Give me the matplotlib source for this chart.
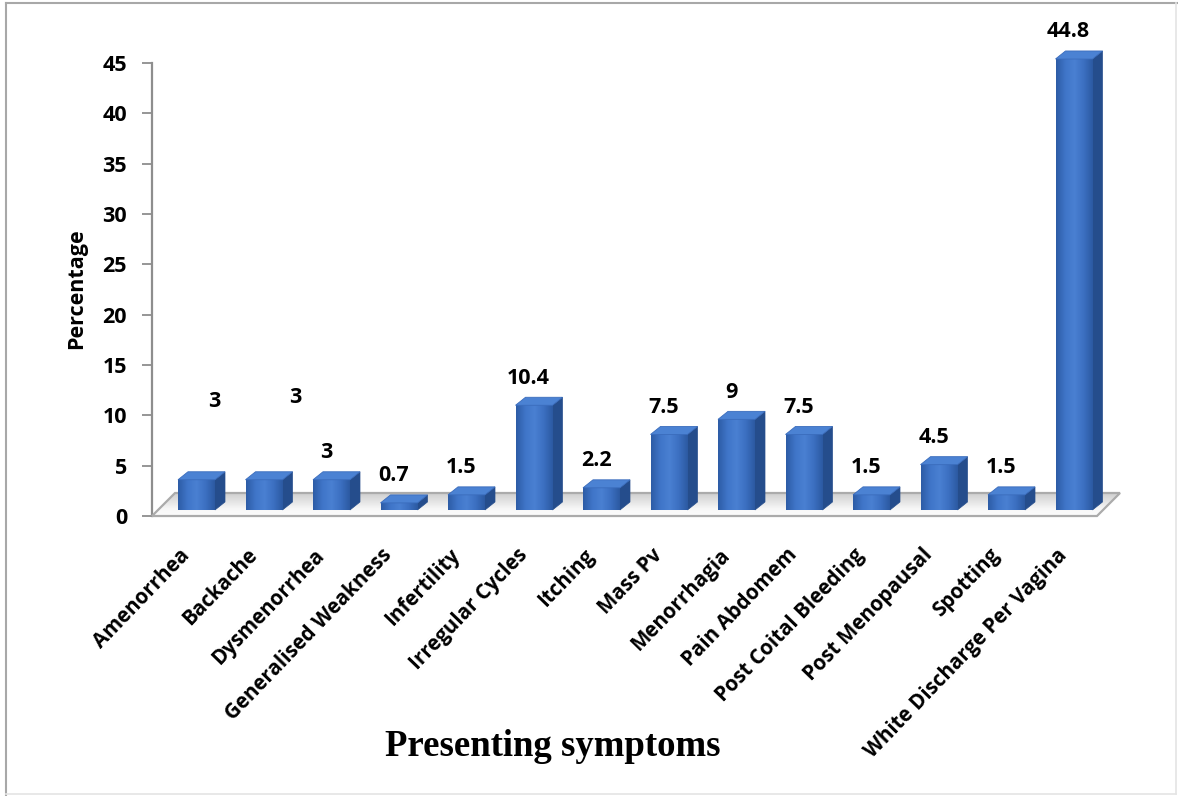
import numpy as np
import matplotlib
matplotlib.use("Agg")
import matplotlib.pyplot as plt
from matplotlib.patches import Polygon
from matplotlib.lines import Line2D
from matplotlib.transforms import offset_copy
from matplotlib.colors import LinearSegmentedColormap

# ---- data -------------------------------------------------------------
symptoms = ["Amenorrhea", "Backache", "Dysmenorrhea", "Generalised Weakness",
            "Infertility", "Irregular Cycles", "Itching", "Mass Pv",
            "Menorrhagia", "Pain Abdomem", "Post Coital Bleeding",
            "Post Menopausal", "Spotting", "White Discharge Per Vagina"]
percentages = [3, 3, 3, 0.7, 1.5, 10.4, 2.2, 7.5, 9, 7.5, 1.5, 4.5, 1.5, 44.8]
y_ticks = [0, 5, 10, 15, 20, 25, 30, 35, 40, 45]

# ---- figure / axes geometry (pixels) ----------------------------------
W, H = 1178, 796
fig = plt.figure(figsize=(W / 100, H / 100), dpi=100)
fig.patch.set_facecolor("white")

ax_l, ax_r, ax_t, ax_b = 152, 1130, 63, 516
ax = fig.add_axes([ax_l / W, (H - ax_b) / H, (ax_r - ax_l) / W, (ax_b - ax_t) / H])
step_px = 67.5
first_center_px = 196.5
x_lo = -(first_center_px - ax_l) / step_px
x_hi = x_lo + (ax_r - ax_l) / step_px
ax.set_facecolor("none")

px_per_unit_y = (ax_b - ax_t) / 45.0
x = np.arange(len(symptoms))

# 3-D look parameters
bar_w = 37 / step_px
depth_x = 10 / step_px
depth_y = 8 / px_per_unit_y
base = 0.6
floor_dx = 23 / step_px
floor_dy = 23 / px_per_unit_y
floor_right = x_lo + (1097 - ax_l) / step_px

# ---- floor ------------------------------------------------------------
floor_pts = [(x_lo, 0), (floor_right, 0),
             (floor_right + floor_dx, floor_dy), (x_lo + floor_dx, floor_dy)]
floor_cmap = LinearSegmentedColormap.from_list(
    "floor", ["#fdfdfd", "#f6f6f6", "#e2e2e2", "#cfcfcf"])
grad = np.linspace(0, 1, 64).reshape(-1, 1)
im = ax.imshow(grad, cmap=floor_cmap, origin="lower", aspect="auto",
               extent=(x_lo, floor_right + floor_dx, 0, floor_dy), zorder=1)
im.set_clip_path(Polygon(floor_pts, closed=True, transform=ax.transData))
ax.add_patch(Polygon(floor_pts, closed=True, facecolor="none",
                     edgecolor="#ababab", lw=1.6, zorder=3, clip_on=False))

# ---- bars -------------------------------------------------------------
front_cmap = LinearSegmentedColormap.from_list(
    "front", ["#2d5ca6", "#3f75c8", "#4a80d2", "#3c70c2", "#2c5aa2"])
side_col = "#254d8c"
top_col = "#4b82d3"
hgrad = np.linspace(0, 1, 64).reshape(1, -1)

bars = ax.bar(x, percentages, width=bar_w, bottom=base, color="#3a6fc2",
              linewidth=0, zorder=5, clip_on=False)
for xi, v, rect in zip(x, percentages, bars):
    # horizontal shading of the front face, same extent as the bar
    ax.imshow(hgrad, cmap=front_cmap, aspect="auto",
              extent=(xi - bar_w / 2, xi + bar_w / 2, base, base + v),
              zorder=6, clip_on=False)
    xr = xi + bar_w / 2
    xl = xi - bar_w / 2
    top = base + v
    side = Polygon([(xr, base), (xr + depth_x, base + depth_y),
                    (xr + depth_x, top + depth_y), (xr, top)],
                   closed=True, facecolor=side_col, edgecolor=side_col,
                   lw=0.5, zorder=5, clip_on=False)
    cap = Polygon([(xl, top), (xr, top), (xr + depth_x, top + depth_y),
                   (xl + depth_x, top + depth_y)],
                  closed=True, facecolor=top_col, edgecolor="#3a6cbc",
                  lw=0.6, zorder=7, clip_on=False)
    ax.add_patch(side)
    ax.add_patch(cap)

ax.set_xlim(x_lo, x_hi)
ax.set_ylim(0, 45)

# ---- value labels ---------------------------------------------------------
label_font = dict(family="Open Sans", weight="bold", size=15.5, color="black")
nudges = {0: (0.35, 5.1), 1: (0.55, 5.5)}
for i, (xi, v) in enumerate(zip(x, percentages)):
    dxn, dyn = nudges.get(i, (0.0, 0.0))
    ax.text(xi - 0.08 + dxn, base + v + 2.7 + dyn, f"{v:g}",
            ha="center", va="center", zorder=10, clip_on=False, **label_font)

# ---- axes styling -------------------------------------------------------
for s in ("top", "right", "bottom"):
    ax.spines[s].set_visible(False)
ax.spines["left"].set_color("#8e8e8e")
ax.spines["left"].set_linewidth(1.6)
ax.set_yticks(y_ticks)
ax.set_yticklabels([str(t) for t in y_ticks], **label_font)
ax.tick_params(axis="y", length=7, width=1.3, color="#8e8e8e", pad=11)
ax.set_xticks([])

# category labels, rotated, anchored at their right end below the floor
cat_font = dict(family="Open Sans", weight="bold", size=14.8, color="black")
lab_trans = offset_copy(ax.get_xaxis_transform(), fig=fig, x=-10, y=-36,
                        units="dots")
for xi, name in zip(x, symptoms):
    ax.text(xi, 0, name, transform=lab_trans, rotation=46,
            rotation_mode="anchor", ha="right", va="center", clip_on=False,
            **cat_font)

fig.text(77 / W, 1 - 289 / H, "Percentage", rotation=90, ha="center",
         va="center", family="Open Sans", weight="bold", size=15.5)
fig.text(553 / W, 1 - 747 / H, "Presenting symptoms", ha="center",
         va="center", family="Liberation Serif", weight="bold", size=26.5)

# ---- outer frame ----------------------------------------------------------
def fig_line(x0, y0, x1, y1, col, lw):
    fig.add_artist(Line2D([x0 / W, x1 / W], [1 - y0 / H, 1 - y1 / H],
                          transform=fig.transFigure, color=col, lw=lw))

fig_line(6, 3, 1178, 3, "#a8a8a8", 1.5)
fig_line(6, 3, 6, 796, "#a8a8a8", 1.5)
fig_line(6, 794, 1176, 794, "#e4e4e4", 1.2)
fig_line(1176, 3, 1176, 794, "#e4e4e4", 1.2)

fig.savefig("out.png", dpi=100, facecolor="white")
